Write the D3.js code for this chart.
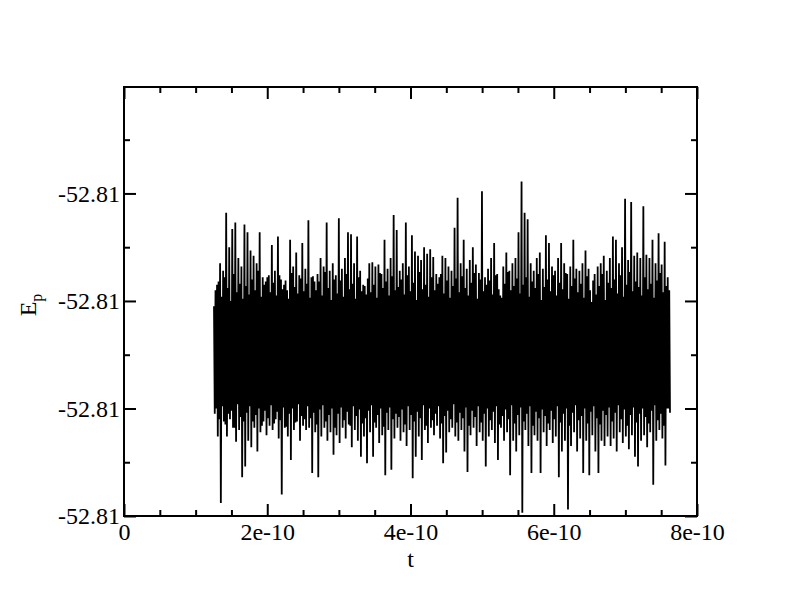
<!DOCTYPE html>
<html>
<head>
<meta charset="utf-8">
<script src="https://cdn.jsdelivr.net/npm/d3@7"></script>
<style>
  body { margin: 0; background: #fff; }
  svg { display: block; }
</style>
</head>
<body>
<svg id="chart" width="792" height="607"></svg>
<script>
// ---------------- data ----------------
const xTicks = [0, 2e-10, 4e-10, 6e-10, 8e-10];
const xTickLabels = ["0", "2e-10", "4e-10", "6e-10", "8e-10"];
const xMinorTicks = [0.5e-10, 1e-10, 1.5e-10, 2.5e-10, 3e-10, 3.5e-10, 4.5e-10, 5e-10, 5.5e-10, 6.5e-10, 7e-10, 7.5e-10];
const yTicks = [-52.8104, -52.8103, -52.8102, -52.8101];
const yTickLabels = ["-52.81", "-52.81", "-52.81", "-52.81"];
const yMinorTicks = [-52.81035, -52.81025, -52.81015, -52.81005];
const xDomain = [0, 8e-10];
const yDomain = [-52.8104, -52.810001];
const tStart = 1.2565e-10;
const tEnd = 7.623e-10;
const ep = [
-52.810205,-52.810305,-52.810190,-52.810300,-52.810185,-52.810326,-52.810182,-52.810310,-52.810165,-52.810388,-52.810196,-52.810298,-52.810172,-52.810312,-52.810178,-52.810315,-52.810118,-52.810326,-52.810188,-52.810305,
-52.810150,-52.810310,-52.810200,-52.810302,-52.810133,-52.810318,-52.810175,-52.810318,-52.810127,-52.810331,-52.810192,-52.810296,-52.810160,-52.810320,-52.810184,-52.810308,-52.810168,-52.810364,-52.810198,-52.810312,
-52.810129,-52.810354,-52.810186,-52.810304,-52.810136,-52.810330,-52.810194,-52.810298,-52.810153,-52.810336,-52.810180,-52.810312,-52.810158,-52.810318,-52.810190,-52.810306,-52.810165,-52.810340,-52.810172,-52.810300,
-52.810136,-52.810322,-52.810196,-52.810316,-52.810178,-52.810312,-52.810185,-52.810302,-52.810182,-52.810325,-52.810178,-52.810309,-52.810176,-52.810316,-52.810192,-52.810297,-52.810148,-52.810320,-52.810183,-52.810314,
-52.810172,-52.810310,-52.810195,-52.810303,-52.810140,-52.810328,-52.810176,-52.810311,-52.810180,-52.810380,-52.810189,-52.810299,-52.810185,-52.810318,-52.810181,-52.810317,-52.810190,-52.810326,-52.810198,-52.810305,
-52.810143,-52.810348,-52.810174,-52.810300,-52.810168,-52.810320,-52.810187,-52.810313,-52.810155,-52.810312,-52.810193,-52.810296,-52.810176,-52.810330,-52.810179,-52.810307,-52.810146,-52.810316,-52.810191,-52.810310,
-52.810170,-52.810320,-52.810184,-52.810298,-52.810125,-52.810318,-52.810197,-52.810309,-52.810178,-52.810360,-52.810177,-52.810304,-52.810182,-52.810322,-52.810190,-52.810315,-52.810175,-52.810364,-52.810182,-52.810301,
-52.810160,-52.810326,-52.810195,-52.810297,-52.810168,-52.810318,-52.810173,-52.810312,-52.810127,-52.810330,-52.810188,-52.810306,-52.810172,-52.810322,-52.810199,-52.810300,-52.810165,-52.810343,-52.810180,-52.810318,
-52.810176,-52.810325,-52.810193,-52.810305,-52.810123,-52.810332,-52.810181,-52.810299,-52.810170,-52.810318,-52.810196,-52.810311,-52.810160,-52.810328,-52.810175,-52.810303,-52.810136,-52.810315,-52.810189,-52.810316,
-52.810138,-52.810336,-52.810184,-52.810298,-52.810165,-52.810320,-52.810198,-52.810307,-52.810140,-52.810330,-52.810178,-52.810301,-52.810172,-52.810345,-52.810191,-52.810314,-52.810185,-52.810326,-52.810186,-52.810309,
-52.810194,-52.810351,-52.810179,-52.810302,-52.810165,-52.810322,-52.810192,-52.810297,-52.810164,-52.810345,-52.810185,-52.810313,-52.810168,-52.810318,-52.810197,-52.810306,-52.810166,-52.810332,-52.810174,-52.810300,
-52.810175,-52.810325,-52.810188,-52.810317,-52.810143,-52.810362,-52.810182,-52.810304,-52.810170,-52.810320,-52.810195,-52.810299,-52.810160,-52.810357,-52.810177,-52.810310,-52.810120,-52.810328,-52.810190,-52.810305,
-52.810134,-52.810318,-52.810187,-52.810308,-52.810172,-52.810330,-52.810180,-52.810301,-52.810165,-52.810322,-52.810194,-52.810315,-52.810127,-52.810335,-52.810176,-52.810298,-52.810168,-52.810320,-52.810191,-52.810306,
-52.810139,-52.810365,-52.810183,-52.810312,-52.810154,-52.810345,-52.810199,-52.810303,-52.810158,-52.810326,-52.810173,-52.810309,-52.810162,-52.810348,-52.810189,-52.810297,-52.810150,-52.810320,-52.810185,-52.810316,
-52.810156,-52.810332,-52.810196,-52.810300,-52.810152,-52.810318,-52.810178,-52.810311,-52.810159,-52.810325,-52.810190,-52.810305,-52.810175,-52.810316,-52.810184,-52.810298,-52.810178,-52.810328,-52.810175,-52.810314,
-52.810158,-52.810351,-52.810193,-52.810307,-52.810160,-52.810341,-52.810181,-52.810302,-52.810168,-52.810322,-52.810197,-52.810310,-52.810172,-52.810318,-52.810186,-52.810296,-52.810132,-52.810326,-52.810179,-52.810313,
-52.810104,-52.810330,-52.810192,-52.810304,-52.810165,-52.810320,-52.810177,-52.810309,-52.810143,-52.810340,-52.810188,-52.810299,-52.810170,-52.810359,-52.810195,-52.810316,-52.810162,-52.810325,-52.810183,-52.810302,
-52.810150,-52.810318,-52.810174,-52.810308,-52.810166,-52.810335,-52.810198,-52.810298,-52.810174,-52.810322,-52.810180,-52.810313,-52.810098,-52.810330,-52.810191,-52.810305,-52.810178,-52.810354,-52.810185,-52.810300,
-52.810170,-52.810326,-52.810181,-52.810311,-52.810160,-52.810320,-52.810194,-52.810303,-52.810146,-52.810332,-52.810176,-52.810298,-52.810175,-52.810348,-52.810189,-52.810315,-52.810195,-52.810318,-52.810197,-52.810307,
-52.810168,-52.810330,-52.810184,-52.810301,-52.810155,-52.810322,-52.810173,-52.810310,-52.810172,-52.810362,-52.810190,-52.810297,-52.810165,-52.810330,-52.810186,-52.810314,-52.810160,-52.810340,-52.810179,-52.810306,
-52.810136,-52.810325,-52.810193,-52.810299,-52.810089,-52.810397,-52.810185,-52.810312,-52.810118,-52.810320,-52.810178,-52.810305,-52.810124,-52.810335,-52.810196,-52.810298,-52.810165,-52.810360,-52.810182,-52.810316,
-52.810172,-52.810325,-52.810188,-52.810303,-52.810160,-52.810330,-52.810175,-52.810309,-52.810155,-52.810360,-52.810199,-52.810301,-52.810170,-52.810322,-52.810187,-52.810307,-52.810139,-52.810335,-52.810180,-52.810314,
-52.810146,-52.810320,-52.810191,-52.810302,-52.810168,-52.810332,-52.810176,-52.810310,-52.810172,-52.810326,-52.810195,-52.810298,-52.810160,-52.810364,-52.810183,-52.810313,-52.810146,-52.810340,-52.810189,-52.810305,
-52.810165,-52.810330,-52.810174,-52.810300,-52.810175,-52.810394,-52.810198,-52.810316,-52.810168,-52.810335,-52.810186,-52.810304,-52.810143,-52.810322,-52.810179,-52.810297,-52.810170,-52.810340,-52.810192,-52.810311,
-52.810172,-52.810328,-52.810184,-52.810307,-52.810165,-52.810360,-52.810197,-52.810300,-52.810153,-52.810330,-52.810177,-52.810314,-52.810170,-52.810362,-52.810190,-52.810303,-52.810201,-52.810325,-52.810181,-52.810298,
-52.810175,-52.810340,-52.810194,-52.810309,-52.810168,-52.810360,-52.810186,-52.810315,-52.810165,-52.810330,-52.810175,-52.810302,-52.810158,-52.810335,-52.810199,-52.810306,-52.810172,-52.810326,-52.810183,-52.810299,
-52.810160,-52.810335,-52.810188,-52.810312,-52.810140,-52.810328,-52.810180,-52.810304,-52.810143,-52.810340,-52.810193,-52.810297,-52.810165,-52.810322,-52.810176,-52.810310,-52.810150,-52.810332,-52.810196,-52.810301,
-52.810105,-52.810326,-52.810185,-52.810316,-52.810162,-52.810338,-52.810173,-52.810306,-52.810108,-52.810325,-52.810191,-52.810299,-52.810158,-52.810345,-52.810182,-52.810313,-52.810155,-52.810354,-52.810187,-52.810305,
-52.810160,-52.810330,-52.810195,-52.810300,-52.810112,-52.810325,-52.810178,-52.810308,-52.810157,-52.810336,-52.810189,-52.810314,-52.810160,-52.810322,-52.810184,-52.810302,-52.810143,-52.810371,-52.810197,-52.810297,
-52.810165,-52.810330,-52.810181,-52.810311,-52.810137,-52.810320,-52.810174,-52.810305,-52.810166,-52.810328,-52.810192,-52.810316,-52.810145,-52.810353,-52.810186,-52.810300,-52.810178,-52.810300,-52.810190,-52.810304
];

// ---------------- layout ----------------
const W = 792, H = 607;
const plot = { left: 124, right: 697, top: 87, bottom: 516 };
const FONT = "'Liberation Serif', 'Times New Roman', Times, serif";

const svg = d3.select("#chart");
svg.append("rect").attr("width", W).attr("height", H).attr("fill", "#fff");

const x = d3.scaleLinear().domain(xDomain).range([plot.left, plot.right]);
const y = d3.scaleLinear().domain(yDomain).range([plot.bottom, plot.top]);

const n = ep.length;
const series = ep.map((v, i) => ({ t: tStart + i * (tEnd - tStart) / (n - 1), v }));

// data line
svg.append("path")
  .datum(series)
  .attr("fill", "none")
  .attr("stroke", "#000")
  .attr("stroke-width", 1.8)
  .attr("stroke-linejoin", "bevel")
  .attr("d", d3.line().x(d => x(d.t)).y(d => y(d.v)));

function styleAxis(g) {
  g.select(".domain").remove();
  g.selectAll(".tick line").attr("stroke", "#000").attr("stroke-width", 2);
  g.selectAll("text")
    .attr("fill", "#000")
    .style("font-family", FONT)
    .style("font-size", "24px");
}

// bottom axis
svg.append("g")
  .attr("transform", `translate(0,${plot.bottom})`)
  .call(d3.axisBottom(x).tickValues(xTicks).tickFormat((d, i) => xTickLabels[i])
    .tickSizeInner(-12).tickSizeOuter(0).tickPadding(7))
  .call(styleAxis);
svg.append("g")
  .attr("transform", `translate(0,${plot.bottom})`)
  .call(d3.axisBottom(x).tickValues(xMinorTicks).tickFormat("").tickSizeInner(-6).tickSizeOuter(0))
  .call(styleAxis);

// top axis (mirror ticks)
svg.append("g")
  .attr("transform", `translate(0,${plot.top})`)
  .call(d3.axisTop(x).tickValues(xTicks).tickFormat("").tickSizeInner(-12).tickSizeOuter(0))
  .call(styleAxis);
svg.append("g")
  .attr("transform", `translate(0,${plot.top})`)
  .call(d3.axisTop(x).tickValues(xMinorTicks).tickFormat("").tickSizeInner(-6).tickSizeOuter(0))
  .call(styleAxis);

// left axis
svg.append("g")
  .attr("transform", `translate(${plot.left},0)`)
  .call(d3.axisLeft(y).tickValues(yTicks).tickFormat((d, i) => yTickLabels[i])
    .tickSizeInner(-12).tickSizeOuter(0).tickPadding(4))
  .call(styleAxis);
svg.append("g")
  .attr("transform", `translate(${plot.left},0)`)
  .call(d3.axisLeft(y).tickValues(yMinorTicks).tickFormat("").tickSizeInner(-6).tickSizeOuter(0))
  .call(styleAxis);

// right axis (mirror ticks)
svg.append("g")
  .attr("transform", `translate(${plot.right},0)`)
  .call(d3.axisRight(y).tickValues(yTicks).tickFormat("").tickSizeInner(-12).tickSizeOuter(0))
  .call(styleAxis);
svg.append("g")
  .attr("transform", `translate(${plot.right},0)`)
  .call(d3.axisRight(y).tickValues(yMinorTicks).tickFormat("").tickSizeInner(-6).tickSizeOuter(0))
  .call(styleAxis);

// frame
svg.append("rect")
  .attr("x", plot.left).attr("y", plot.top)
  .attr("width", plot.right - plot.left).attr("height", plot.bottom - plot.top)
  .attr("fill", "none").attr("stroke", "#000").attr("stroke-width", 2);

// axis titles
svg.append("text")
  .attr("x", (plot.left + plot.right) / 2).attr("y", 567)
  .attr("text-anchor", "middle")
  .style("font-family", FONT).style("font-size", "24px")
  .text("t");

const yt = svg.append("text")
  .attr("transform", "translate(36,305) rotate(-90)")
  .attr("text-anchor", "middle")
  .style("font-family", FONT).style("font-size", "24px");
yt.append("tspan").text("E");
yt.append("tspan").attr("dy", 6).style("font-size", "16px").text("p");
</script>
</body>
</html>
